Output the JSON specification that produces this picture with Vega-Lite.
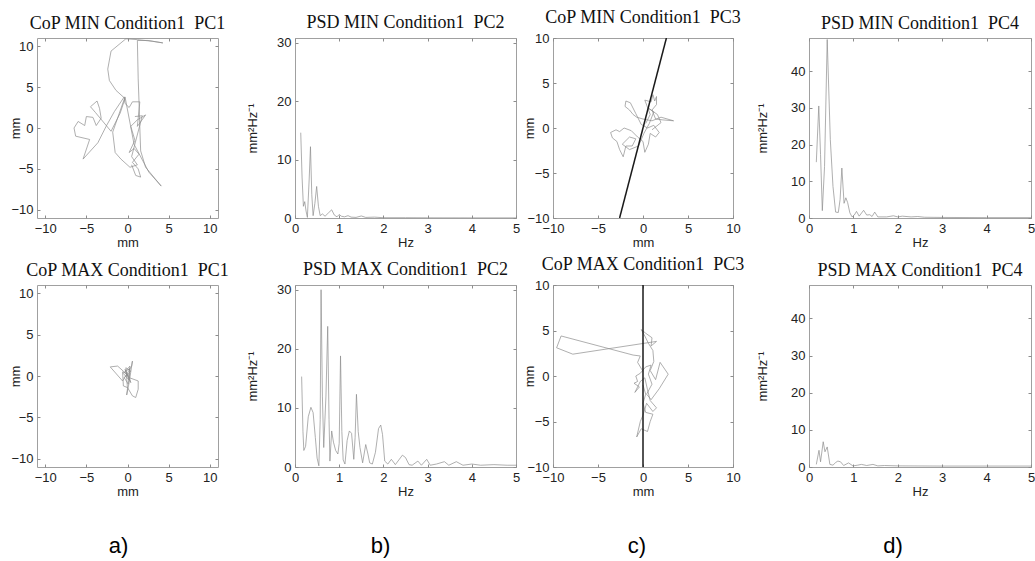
{
  "$schema": "https://vega.github.io/schema/vega-lite/v6.json",
  "background": "white",
  "padding": {"left": 9, "top": 8, "right": 0, "bottom": 0},
  "columns": 6,
  "spacing": {"row": 67, "column": 37},
  "bounds": "flush",
  "align": "each",
  "datasets": {
    "a1": [{"x":0.5,"y":-4.5},{"x":1.0,"y":-5.8},{"x":1.6,"y":-6.0},{"x":1.3,"y":-5.0},{"x":0.6,"y":-4.2},{"x":1.4,"y":-3.2},{"x":0.8,"y":-2.5},{"x":0.2,"y":-3.0},{"x":0.9,"y":-1.5},{"x":0.4,"y":0.2},{"x":1.2,"y":1.0},{"x":2.2,"y":1.6},{"x":1.2,"y":0.2},{"x":1.5,"y":3.2},{"x":0.6,"y":3.2},{"x":0.2,"y":2.5},{"x":-0.3,"y":3.0},{"x":-0.4,"y":3.8},{"x":-1.6,"y":2.0},{"x":-2.6,"y":0.2},{"x":-3.6,"y":-1.8},{"x":-5.4,"y":-3.8},{"x":-4.6,"y":-1.4},{"x":-6.3,"y":-1.0},{"x":-6.5,"y":0.0},{"x":-6.0,"y":0.8},{"x":-5.2,"y":0.3},{"x":-5.0,"y":1.4},{"x":-4.2,"y":1.3},{"x":-3.8,"y":0.3},{"x":-3.2,"y":1.2},{"x":-3.4,"y":2.4},{"x":-3.7,"y":3.3},{"x":-4.5,"y":2.6},{"x":-3.9,"y":1.9},{"x":-2.0,"y":-0.4},{"x":-0.9,"y":1.8},{"x":-0.3,"y":3.6},{"x":-1.4,"y":4.6},{"x":-2.2,"y":5.8},{"x":-2.4,"y":7.2},{"x":-2.0,"y":9.4},{"x":-0.2,"y":10.9},{"x":1.2,"y":10.8},{"x":3.0,"y":10.6},{"x":4.3,"y":10.4},{"x":2.5,"y":10.7},{"x":1.2,"y":10.7},{"x":1.3,"y":6.0},{"x":1.4,"y":3.2},{"x":1.5,"y":0.0},{"x":1.6,"y":-2.8},{"x":2.2,"y":-4.8},{"x":4.1,"y":-7.1},{"x":2.6,"y":-5.4},{"x":0.8,"y":-2.0},{"x":-0.3,"y":3.8},{"x":-1.8,"y":-0.5},{"x":-1.5,"y":-3.0},{"x":-0.8,"y":-3.8},{"x":0.3,"y":-4.8},{"x":1.2,"y":-4.5},{"x":0.5,"y":-3.5},{"x":1.8,"y":1.5},{"x":0.9,"y":1.4}],
    "a2": [{"x":0.0,"y":0.0},{"x":-0.3,"y":0.8},{"x":0.2,"y":-0.5},{"x":-0.5,"y":0.3},{"x":0.3,"y":1.2},{"x":0.1,"y":-1.0},{"x":-0.4,"y":-0.2},{"x":0.4,"y":0.6},{"x":-0.2,"y":1.0},{"x":0.0,"y":-1.5},{"x":-0.1,"y":-2.3},{"x":0.2,"y":-0.8},{"x":0.6,"y":1.8},{"x":0.5,"y":1.2},{"x":-0.6,"y":-0.6},{"x":-2.1,"y":1.1},{"x":-1.2,"y":1.2},{"x":-0.3,"y":0.4},{"x":0.2,"y":-0.2},{"x":1.3,"y":-0.6},{"x":1.3,"y":-1.6},{"x":1.0,"y":-2.6},{"x":0.6,"y":-2.4},{"x":0.0,"y":-1.4},{"x":-0.5,"y":-1.2},{"x":-0.6,"y":0.5},{"x":0.1,"y":0.2},{"x":0.4,"y":-0.8},{"x":-0.2,"y":0.6},{"x":0.3,"y":0.9},{"x":0.2,"y":-0.4}],
    "c1": [{"x":0.3,"y":0.5},{"x":0.8,"y":1.5},{"x":0.2,"y":3.1},{"x":0.9,"y":2.9},{"x":1.1,"y":3.7},{"x":1.3,"y":3.0},{"x":1.5,"y":3.5},{"x":1.5,"y":2.6},{"x":1.0,"y":2.0},{"x":1.4,"y":1.0},{"x":2.2,"y":0.9},{"x":3.4,"y":0.8},{"x":2.0,"y":1.2},{"x":1.0,"y":0.8},{"x":0.0,"y":1.0},{"x":-0.7,"y":1.2},{"x":-1.1,"y":1.5},{"x":-1.5,"y":2.0},{"x":-2.0,"y":2.4},{"x":-1.9,"y":3.0},{"x":-1.4,"y":2.8},{"x":-0.8,"y":1.6},{"x":-0.2,"y":0.4},{"x":0.5,"y":0.0},{"x":1.2,"y":0.3},{"x":1.8,"y":-0.5},{"x":1.4,"y":-1.0},{"x":0.8,"y":-0.6},{"x":0.6,"y":-1.8},{"x":0.2,"y":-2.7},{"x":0.0,"y":-1.5},{"x":-0.6,"y":-1.0},{"x":-1.3,"y":-0.3},{"x":-2.1,"y":0.0},{"x":-2.6,"y":-0.4},{"x":-3.0,"y":-0.2},{"x":-3.6,"y":-0.5},{"x":-3.4,"y":-1.1},{"x":-2.9,"y":-1.5},{"x":-2.6,"y":-2.4},{"x":-2.2,"y":-3.2},{"x":-1.9,"y":-2.0},{"x":-1.2,"y":-2.0},{"x":-0.8,"y":-1.2},{"x":-1.5,"y":-1.0},{"x":-2.3,"y":-1.8},{"x":-1.5,"y":-2.4},{"x":-0.5,"y":-2.0},{"x":0.1,"y":-0.6},{"x":0.7,"y":0.5},{"x":1.2,"y":1.8},{"x":0.6,"y":2.2},{"x":1.6,"y":1.5},{"x":2.0,"y":0.6},{"x":1.0,"y":-0.2}],
    "c2": [{"x":0.0,"y":0.5},{"x":-0.6,"y":1.5},{"x":-0.3,"y":2.2},{"x":-1.1,"y":2.3},{"x":-9.1,"y":4.4},{"x":-9.6,"y":3.1},{"x":-7.8,"y":2.4},{"x":1.5,"y":3.8},{"x":0.9,"y":3.3},{"x":1.0,"y":4.2},{"x":0.3,"y":4.7},{"x":-0.2,"y":5.1},{"x":0.2,"y":4.4},{"x":0.6,"y":3.6},{"x":1.1,"y":2.8},{"x":1.2,"y":1.6},{"x":0.8,"y":0.6},{"x":1.4,"y":-0.4},{"x":1.9,"y":1.5},{"x":2.8,"y":0.2},{"x":1.8,"y":-1.4},{"x":0.9,"y":-2.6},{"x":0.4,"y":-2.0},{"x":1.0,"y":-0.9},{"x":0.6,"y":0.2},{"x":0.9,"y":1.2},{"x":0.3,"y":1.0},{"x":-0.3,"y":0.3},{"x":-0.8,"y":0.0},{"x":-0.6,"y":-0.6},{"x":-1.0,"y":-0.8},{"x":-0.4,"y":-1.2},{"x":-0.9,"y":-1.8},{"x":-0.3,"y":-0.6},{"x":0.2,"y":-0.2},{"x":0.5,"y":-1.5},{"x":0.8,"y":-2.7},{"x":1.5,"y":-3.5},{"x":1.1,"y":-3.9},{"x":0.4,"y":-3.0},{"x":0.0,"y":-4.3},{"x":-0.3,"y":-5.0},{"x":-0.7,"y":-6.7},{"x":-0.2,"y":-5.8},{"x":0.5,"y":-6.1},{"x":0.8,"y":-5.0},{"x":1.1,"y":-4.2},{"x":0.3,"y":-4.0},{"x":0.0,"y":-3.0},{"x":0.3,"y":-2.0},{"x":0.0,"y":-1.0}],
    "c1pc": [{"x":-2.6,"y":-10},{"x":2.6,"y":10}],
    "c2pc": [{"x":0,"y":-10},{"x":0,"y":10}],
    "b1": [{"f":0.13,"p":14.6},{"f":0.16,"p":7.0},{"f":0.19,"p":2.0},{"f":0.22,"p":2.8},{"f":0.25,"p":1.2},{"f":0.28,"p":0.1},{"f":0.32,"p":6.5},{"f":0.35,"p":12.2},{"f":0.38,"p":4.0},{"f":0.41,"p":0.4},{"f":0.45,"p":2.5},{"f":0.49,"p":5.4},{"f":0.53,"p":2.0},{"f":0.57,"p":0.4},{"f":0.62,"p":0.7},{"f":0.68,"p":0.3},{"f":0.76,"p":0.9},{"f":0.83,"p":1.4},{"f":0.89,"p":0.5},{"f":0.95,"p":0.2},{"f":1.0,"p":0.6},{"f":1.05,"p":0.3},{"f":1.12,"p":0.2},{"f":1.2,"p":0.4},{"f":1.27,"p":0.15},{"f":1.38,"p":0.1},{"f":1.5,"p":0.35},{"f":1.6,"p":0.1},{"f":1.8,"p":0.15},{"f":2.0,"p":0.05},{"f":2.5,"p":0.05},{"f":3.0,"p":0.03},{"f":4.0,"p":0.02},{"f":5.0,"p":0.02}],
    "b2": [{"f":0.15,"p":15.3},{"f":0.18,"p":6},{"f":0.2,"p":2.8},{"f":0.24,"p":3.5},{"f":0.3,"p":8.5},{"f":0.36,"p":10.1},{"f":0.41,"p":9.2},{"f":0.46,"p":5},{"f":0.5,"p":1.5},{"f":0.54,"p":0.2},{"f":0.57,"p":8},{"f":0.59,"p":30},{"f":0.62,"p":12},{"f":0.65,"p":3.3},{"f":0.7,"p":12},{"f":0.74,"p":23.8},{"f":0.77,"p":8},{"f":0.79,"p":1.0},{"f":0.83,"p":6.1},{"f":0.87,"p":4.2},{"f":0.92,"p":2.8},{"f":0.97,"p":2.2},{"f":1.0,"p":4},{"f":1.03,"p":18.8},{"f":1.06,"p":6},{"f":1.09,"p":1.2},{"f":1.13,"p":0.5},{"f":1.18,"p":4.5},{"f":1.23,"p":6.1},{"f":1.28,"p":5.7},{"f":1.33,"p":1.3},{"f":1.36,"p":5},{"f":1.39,"p":12.3},{"f":1.43,"p":6},{"f":1.47,"p":3.3},{"f":1.53,"p":0.7},{"f":1.6,"p":3.8},{"f":1.65,"p":2.2},{"f":1.69,"p":0.7},{"f":1.75,"p":0.5},{"f":1.82,"p":2.5},{"f":1.89,"p":6.5},{"f":1.94,"p":7.1},{"f":1.98,"p":5.5},{"f":2.03,"p":1.0},{"f":2.1,"p":0.5},{"f":2.18,"p":1.3},{"f":2.27,"p":0.4},{"f":2.35,"p":1.2},{"f":2.43,"p":2.0},{"f":2.5,"p":1.6},{"f":2.58,"p":0.4},{"f":2.65,"p":0.3},{"f":2.78,"p":1.0},{"f":2.86,"p":0.3},{"f":2.98,"p":1.3},{"f":3.06,"p":0.3},{"f":3.2,"p":0.5},{"f":3.38,"p":0.9},{"f":3.48,"p":0.3},{"f":3.65,"p":0.9},{"f":3.8,"p":0.3},{"f":4.0,"p":0.5},{"f":4.2,"p":0.3},{"f":4.5,"p":0.4},{"f":4.8,"p":0.3},{"f":5.0,"p":0.3}],
    "d1": [{"f":0.165,"p":15.2},{"f":0.22,"p":30.5},{"f":0.26,"p":17.3},{"f":0.3,"p":2.0},{"f":0.35,"p":14},{"f":0.41,"p":48.6},{"f":0.48,"p":21.4},{"f":0.54,"p":8.6},{"f":0.6,"p":1.6},{"f":0.66,"p":1.5},{"f":0.7,"p":5},{"f":0.74,"p":13.6},{"f":0.79,"p":4.0},{"f":0.83,"p":5.5},{"f":0.87,"p":4.2},{"f":0.92,"p":1.4},{"f":0.97,"p":0.3},{"f":1.02,"p":0.8},{"f":1.07,"p":1.8},{"f":1.13,"p":0.5},{"f":1.23,"p":2.1},{"f":1.3,"p":0.8},{"f":1.37,"p":0.9},{"f":1.42,"p":0.4},{"f":1.48,"p":1.6},{"f":1.55,"p":0.3},{"f":1.75,"p":0.3},{"f":1.9,"p":0.6},{"f":2.0,"p":0.3},{"f":2.1,"p":0.5},{"f":2.3,"p":0.3},{"f":2.45,"p":0.4},{"f":2.6,"p":0.2},{"f":3.0,"p":0.15},{"f":4.0,"p":0.1},{"f":5.0,"p":0.1}],
    "d2": [{"f":0.165,"p":0.7},{"f":0.225,"p":4.5},{"f":0.26,"p":1.4},{"f":0.32,"p":6.8},{"f":0.36,"p":4.1},{"f":0.41,"p":5.4},{"f":0.47,"p":0.7},{"f":0.54,"p":0.5},{"f":0.6,"p":1.2},{"f":0.65,"p":1.6},{"f":0.71,"p":1.4},{"f":0.78,"p":0.4},{"f":0.89,"p":1.1},{"f":0.99,"p":0.3},{"f":1.1,"p":0.5},{"f":1.18,"p":0.7},{"f":1.3,"p":0.4},{"f":1.44,"p":0.7},{"f":1.55,"p":0.3},{"f":1.7,"p":0.4},{"f":2.0,"p":0.3},{"f":3.0,"p":0.25},{"f":4.0,"p":0.25},{"f":5.0,"p":0.25}]
  },
  "concat": [
    {"width": 181, "height": 180, "data": {"name": "a1"}, "title": {"text": "CoP MIN Condition1\u00a0 PC1"},
     "layer": [
      {"mark": {"type": "line", "color": "#8c8c8c", "strokeWidth": 0.7, "clip": true},
       "encoding": {"x": {"field": "x", "type": "quantitative", "scale": {"domain": [-11, 11], "nice": false, "zero": false}, "axis": {"values": [-10, -5, 0, 5, 10], "title": "mm", "titlePadding": 1}},
                    "y": {"field": "y", "type": "quantitative", "scale": {"domain": [-11, 11], "nice": false, "zero": false}, "axis": {"values": [-10, -5, 0, 5, 10], "title": "mm", "titlePadding": -12}},
                    "order": {"value": null}}},
      {"mark": {"type": "line", "opacity": 0},
       "encoding": {"x": {"field": "x", "type": "quantitative", "scale": {"domain": [-11, 11], "nice": false, "zero": false}, "axis": {"orient": "top", "values": [-10, -5, 0, 5, 10], "labels": false, "title": null}},
                    "y": {"field": "y", "type": "quantitative", "scale": {"domain": [-11, 11], "nice": false, "zero": false}, "axis": {"orient": "right", "values": [-10, -5, 0, 5, 10], "labels": false, "title": null}},
                    "order": {"value": null}}}
     ],
     "resolve": {"axis": {"x": "independent", "y": "independent"}}},
    {"width": 3, "height": 1, "view": {"stroke": null}, "data": {"values": []}, "mark": "point"},
    {"width": 221, "height": 180, "data": {"name": "b1"}, "title": {"text": "PSD MIN Condition1\u00a0 PC2"},
     "layer": [
      {"mark": {"type": "line", "color": "#8c8c8c", "strokeWidth": 0.7, "clip": true},
       "encoding": {"x": {"field": "f", "type": "quantitative", "scale": {"domain": [0, 5], "nice": false}, "axis": {"values": [0, 1, 2, 3, 4, 5], "title": "Hz", "titlePadding": 1}},
                    "y": {"field": "p", "type": "quantitative", "scale": {"domain": [0, 30.8], "nice": false}, "axis": {"values": [0, 10, 20, 30], "title": "mm²Hz⁻¹", "titlePadding": 17}}}},
      {"mark": {"type": "line", "opacity": 0},
       "encoding": {"x": {"field": "f", "type": "quantitative", "scale": {"domain": [0, 5], "nice": false}, "axis": {"orient": "top", "values": [0, 1, 2, 3, 4, 5], "labels": false, "title": null}},
                    "y": {"field": "p", "type": "quantitative", "scale": {"domain": [0, 30.8], "nice": false}, "axis": {"orient": "right", "values": [0, 10, 20, 30], "labels": false, "title": null}}}}
     ],
     "resolve": {"axis": {"x": "independent", "y": "independent"}}},
    {"width": 180, "height": 180, "data": {"name": "c1"}, "title": {"text": "CoP MIN Condition1\u00a0 PC3"},
     "layer": [
      {"mark": {"type": "line", "color": "#8c8c8c", "strokeWidth": 0.7, "clip": true},
       "encoding": {"x": {"field": "x", "type": "quantitative", "scale": {"domain": [-10, 10], "nice": false, "zero": false}, "axis": {"values": [-10, -5, 0, 5, 10], "title": "mm", "titlePadding": 1}},
                    "y": {"field": "y", "type": "quantitative", "scale": {"domain": [-10, 10], "nice": false, "zero": false}, "axis": {"values": [-10, -5, 0, 5, 10], "title": "mm", "titlePadding": -10}},
                    "order": {"value": null}}},
      {"mark": {"type": "line", "opacity": 0},
       "encoding": {"x": {"field": "x", "type": "quantitative", "scale": {"domain": [-10, 10], "nice": false, "zero": false}, "axis": {"orient": "top", "values": [-10, -5, 0, 5, 10], "labels": false, "title": null}},
                    "y": {"field": "y", "type": "quantitative", "scale": {"domain": [-10, 10], "nice": false, "zero": false}, "axis": {"orient": "right", "values": [-10, -5, 0, 5, 10], "labels": false, "title": null}},
                    "order": {"value": null}}},
      {"data": {"name": "c1pc"}, "mark": {"type": "line", "color": "#1a1a1a", "strokeWidth": 1.5, "clip": true},
       "encoding": {"x": {"field": "x", "type": "quantitative", "scale": {"domain": [-10, 10], "nice": false, "zero": false}, "axis": null},
                    "y": {"field": "y", "type": "quantitative", "scale": {"domain": [-10, 10], "nice": false, "zero": false}, "axis": null},
                    "order": {"value": null}}}
     ],
     "resolve": {"axis": {"x": "independent", "y": "independent"}}},
    {"width": 2, "height": 1, "view": {"stroke": null}, "data": {"values": []}, "mark": "point"},
    {"width": 222, "height": 180, "data": {"name": "d1"}, "title": {"text": "PSD MIN Condition1\u00a0 PC4"},
     "layer": [
      {"mark": {"type": "line", "color": "#8c8c8c", "strokeWidth": 0.7, "clip": true},
       "encoding": {"x": {"field": "f", "type": "quantitative", "scale": {"domain": [0, 5], "nice": false}, "axis": {"values": [0, 1, 2, 3, 4, 5], "title": "Hz", "titlePadding": 1}},
                    "y": {"field": "p", "type": "quantitative", "scale": {"domain": [0, 49], "nice": false}, "axis": {"values": [0, 10, 20, 30, 40], "title": "mm²Hz⁻¹", "titlePadding": 21}}}},
      {"mark": {"type": "line", "opacity": 0},
       "encoding": {"x": {"field": "f", "type": "quantitative", "scale": {"domain": [0, 5], "nice": false}, "axis": {"orient": "top", "values": [0, 1, 2, 3, 4, 5], "labels": false, "title": null}},
                    "y": {"field": "p", "type": "quantitative", "scale": {"domain": [0, 49], "nice": false}, "axis": {"orient": "right", "values": [0, 10, 20, 30, 40], "labels": false, "title": null}}}}
     ],
     "resolve": {"axis": {"x": "independent", "y": "independent"}}},

    {"width": 181, "height": 182, "data": {"name": "a2"}, "title": {"text": "CoP MAX Condition1\u00a0 PC1"},
     "layer": [
      {"mark": {"type": "line", "color": "#8c8c8c", "strokeWidth": 0.7, "clip": true},
       "encoding": {"x": {"field": "x", "type": "quantitative", "scale": {"domain": [-11, 11], "nice": false, "zero": false}, "axis": {"values": [-10, -5, 0, 5, 10], "title": "mm", "titlePadding": 1}},
                    "y": {"field": "y", "type": "quantitative", "scale": {"domain": [-11, 11], "nice": false, "zero": false}, "axis": {"values": [-10, -5, 0, 5, 10], "title": "mm", "titlePadding": -12}},
                    "order": {"value": null}}},
      {"mark": {"type": "line", "opacity": 0},
       "encoding": {"x": {"field": "x", "type": "quantitative", "scale": {"domain": [-11, 11], "nice": false, "zero": false}, "axis": {"orient": "top", "values": [-10, -5, 0, 5, 10], "labels": false, "title": null}},
                    "y": {"field": "y", "type": "quantitative", "scale": {"domain": [-11, 11], "nice": false, "zero": false}, "axis": {"orient": "right", "values": [-10, -5, 0, 5, 10], "labels": false, "title": null}},
                    "order": {"value": null}}}
     ],
     "resolve": {"axis": {"x": "independent", "y": "independent"}}},
    {"width": 3, "height": 1, "view": {"stroke": null}, "data": {"values": []}, "mark": "point"},
    {"width": 221, "height": 182, "data": {"name": "b2"}, "title": {"text": "PSD MAX Condition1\u00a0 PC2"},
     "layer": [
      {"mark": {"type": "line", "color": "#8c8c8c", "strokeWidth": 0.7, "clip": true},
       "encoding": {"x": {"field": "f", "type": "quantitative", "scale": {"domain": [0, 5], "nice": false}, "axis": {"values": [0, 1, 2, 3, 4, 5], "title": "Hz", "titlePadding": 1}},
                    "y": {"field": "p", "type": "quantitative", "scale": {"domain": [0, 30.8], "nice": false}, "axis": {"values": [0, 10, 20, 30], "title": "mm²Hz⁻¹", "titlePadding": 17}}}},
      {"mark": {"type": "line", "opacity": 0},
       "encoding": {"x": {"field": "f", "type": "quantitative", "scale": {"domain": [0, 5], "nice": false}, "axis": {"orient": "top", "values": [0, 1, 2, 3, 4, 5], "labels": false, "title": null}},
                    "y": {"field": "p", "type": "quantitative", "scale": {"domain": [0, 30.8], "nice": false}, "axis": {"orient": "right", "values": [0, 10, 20, 30], "labels": false, "title": null}}}}
     ],
     "resolve": {"axis": {"x": "independent", "y": "independent"}}},
    {"width": 180, "height": 182, "data": {"name": "c2"}, "title": {"text": "CoP MAX Condition1\u00a0 PC3"},
     "layer": [
      {"mark": {"type": "line", "color": "#8c8c8c", "strokeWidth": 0.7, "clip": true},
       "encoding": {"x": {"field": "x", "type": "quantitative", "scale": {"domain": [-10, 10], "nice": false, "zero": false}, "axis": {"values": [-10, -5, 0, 5, 10], "title": "mm", "titlePadding": 1}},
                    "y": {"field": "y", "type": "quantitative", "scale": {"domain": [-10, 10], "nice": false, "zero": false}, "axis": {"values": [-10, -5, 0, 5, 10], "title": "mm", "titlePadding": -10}},
                    "order": {"value": null}}},
      {"mark": {"type": "line", "opacity": 0},
       "encoding": {"x": {"field": "x", "type": "quantitative", "scale": {"domain": [-10, 10], "nice": false, "zero": false}, "axis": {"orient": "top", "values": [-10, -5, 0, 5, 10], "labels": false, "title": null}},
                    "y": {"field": "y", "type": "quantitative", "scale": {"domain": [-10, 10], "nice": false, "zero": false}, "axis": {"orient": "right", "values": [-10, -5, 0, 5, 10], "labels": false, "title": null}},
                    "order": {"value": null}}},
      {"data": {"name": "c2pc"}, "mark": {"type": "line", "color": "#1a1a1a", "strokeWidth": 1.5, "clip": true},
       "encoding": {"x": {"field": "x", "type": "quantitative", "scale": {"domain": [-10, 10], "nice": false, "zero": false}, "axis": null},
                    "y": {"field": "y", "type": "quantitative", "scale": {"domain": [-10, 10], "nice": false, "zero": false}, "axis": null},
                    "order": {"value": null}}}
     ],
     "resolve": {"axis": {"x": "independent", "y": "independent"}}},
    {"width": 2, "height": 1, "view": {"stroke": null}, "data": {"values": []}, "mark": "point"},
    {"width": 222, "height": 182, "data": {"name": "d2"}, "title": {"text": "PSD MAX Condition1\u00a0 PC4"},
     "layer": [
      {"mark": {"type": "line", "color": "#8c8c8c", "strokeWidth": 0.7, "clip": true},
       "encoding": {"x": {"field": "f", "type": "quantitative", "scale": {"domain": [0, 5], "nice": false}, "axis": {"values": [0, 1, 2, 3, 4, 5], "title": "Hz", "titlePadding": 1}},
                    "y": {"field": "p", "type": "quantitative", "scale": {"domain": [0, 49], "nice": false}, "axis": {"values": [0, 10, 20, 30, 40], "title": "mm²Hz⁻¹", "titlePadding": 21}}}},
      {"mark": {"type": "line", "opacity": 0},
       "encoding": {"x": {"field": "f", "type": "quantitative", "scale": {"domain": [0, 5], "nice": false}, "axis": {"orient": "top", "values": [0, 1, 2, 3, 4, 5], "labels": false, "title": null}},
                    "y": {"field": "p", "type": "quantitative", "scale": {"domain": [0, 49], "nice": false}, "axis": {"orient": "right", "values": [0, 10, 20, 30, 40], "labels": false, "title": null}}}}
     ],
     "resolve": {"axis": {"x": "independent", "y": "independent"}}},

    {"width": 181, "height": 24, "view": {"stroke": null}, "data": {"values": [{"label": "a)"}]},
     "mark": {"type": "text", "font": "Liberation Sans", "fontSize": 22, "color": "#000", "baseline": "middle", "dx": -9}, "encoding": {"text": {"field": "label"}}},
    {"width": 3, "height": 1, "view": {"stroke": null}, "data": {"values": []}, "mark": "point"},
    {"width": 221, "height": 24, "view": {"stroke": null}, "data": {"values": [{"label": "b)"}]},
     "mark": {"type": "text", "font": "Liberation Sans", "fontSize": 22, "color": "#000", "baseline": "middle", "dx": -25}, "encoding": {"text": {"field": "label"}}},
    {"width": 180, "height": 24, "view": {"stroke": null}, "data": {"values": [{"label": "c)"}]},
     "mark": {"type": "text", "font": "Liberation Sans", "fontSize": 22, "color": "#000", "baseline": "middle", "dx": -6}, "encoding": {"text": {"field": "label"}}},
    {"width": 2, "height": 1, "view": {"stroke": null}, "data": {"values": []}, "mark": "point"},
    {"width": 222, "height": 24, "view": {"stroke": null}, "data": {"values": [{"label": "d)"}]},
     "mark": {"type": "text", "font": "Liberation Sans", "fontSize": 22, "color": "#000", "baseline": "middle", "dx": -27}, "encoding": {"text": {"field": "label"}}}
  ],
  "config": {
    "view": {"stroke": "#a0a0a0", "strokeWidth": 1},
    "axis": {"domain": false, "grid": false, "ticks": true, "tickSize": -3, "tickColor": "#8c8c8c", "labelPadding": 7, "labelFont": "Liberation Sans", "labelFontSize": 13, "labelColor": "#222", "labelFlush": false, "labelOverlap": false, "titleFont": "Liberation Sans", "titleFontSize": 13, "titleFontWeight": "normal", "titleColor": "#222"},
    "title": {"font": "Liberation Serif", "fontSize": 18, "fontWeight": "normal", "color": "#111", "offset": 5, "frame": "group", "anchor": "middle", "baseline": "alphabetic"}
  }
}
